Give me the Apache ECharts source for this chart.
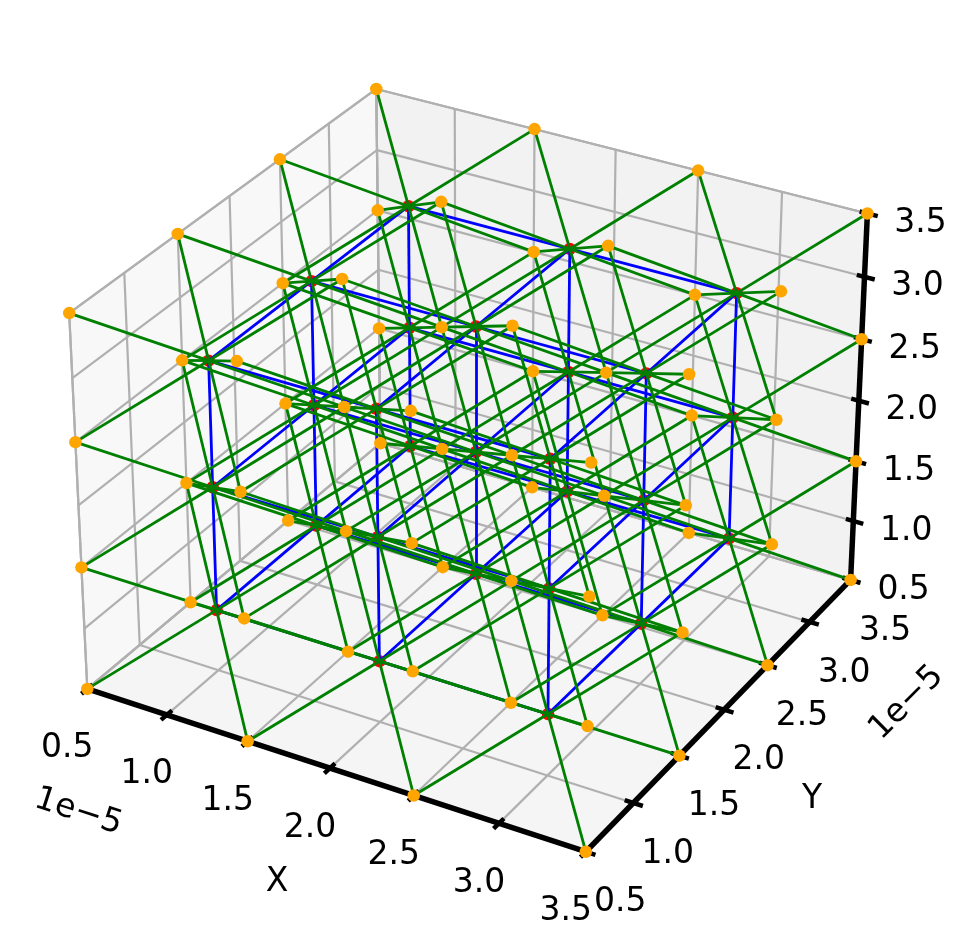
<!DOCTYPE html>
<html>
<head>
<meta charset="utf-8">
<style>html,body{margin:0;padding:0;background:#fff}#c{width:967px;height:951px}</style>
<script src="https://cdn.jsdelivr.net/npm/echarts@6/dist/echarts.min.js"></script>
</head>
<body>
<div id="c"></div>
<script>
// ---- data (all coordinates in units of 1e-5) ----
const axisMin = 0.5, axisMax = 3.5;
const tickValues = [0.5, 1.0, 1.5, 2.0, 2.5, 3.0, 3.5];
const tickLabels = ['0.5', '1.0', '1.5', '2.0', '2.5', '3.0', '3.5'];
const outerCoords = [0.5, 1.5, 2.5, 3.5];   // orange lattice
const innerCoords = [1.0, 2.0, 3.0];        // red lattice
const axisLabels = {x: 'X', y: 'Y'};
const offsetText = '1e\u22125';

// ---- camera (elev 30, azim -60, box 4:4:3, dist 10) ----
const SCALE = 4797, OX = 476, OY = 452, W = 967, H = 951;
const half = [0.59524, 0.59524, 0.44643];
function project(x, y, z) {
  const q = [x, y, z].map((v, i) => half[i] * (2 * (v - axisMin) / (axisMax - axisMin) - 1));
  const xc = 0.866025 * q[0] + 0.5 * q[1];
  const yc = -0.25 * q[0] + 0.433013 * q[1] + 0.866025 * q[2];
  const d = 10 - (0.433013 * q[0] - 0.75 * q[1] + 0.5 * q[2]);
  return [xc / d, yc / d];
}
const seg = (a, b) => ({coords: [project(...a), project(...b)]});
const lo = axisMin, hi = axisMax;

// ---- marks ----
const gridSegs = [], edgeSegs = [], tickSegs = [], blueSegs = [], greenSegs = [];
tickValues.forEach(t => {
  gridSegs.push(seg([t, lo, lo], [t, hi, lo]), seg([t, hi, lo], [t, hi, hi]));
  gridSegs.push(seg([lo, t, lo], [hi, t, lo]), seg([lo, t, lo], [lo, t, hi]));
  gridSegs.push(seg([lo, lo, t], [lo, hi, t]), seg([lo, hi, t], [hi, hi, t]));
  tickSegs.push(seg([t, lo - 0.055, lo], [t, lo + 0.05, lo]));
  tickSegs.push(seg([hi + 0.055, t, lo], [hi - 0.05, t, lo]));
  tickSegs.push(seg([hi + 0.06, hi, t], [hi - 0.045, hi, t]));
});
edgeSegs.push(seg([lo, lo, lo], [lo, lo, hi]), seg([lo, lo, hi], [lo, hi, hi]),
  seg([lo, hi, hi], [hi, hi, hi]), seg([lo, hi, lo], [lo, hi, hi]),
  seg([lo, lo, lo], [lo, hi, lo]), seg([lo, hi, lo], [hi, hi, lo]));
const axisSegs = [seg([lo, lo, lo], [hi, lo, lo]), seg([hi, lo, lo], [hi, hi, lo]), seg([hi, hi, lo], [hi, hi, hi])];

const orangePts = [], redPts = [];
outerCoords.forEach(x => outerCoords.forEach(y => outerCoords.forEach(z => orangePts.push(project(x, y, z)))));
innerCoords.forEach(x => innerCoords.forEach(y => innerCoords.forEach(z => {
  redPts.push(project(x, y, z));
  const n = innerCoords.length - 1;
  if (x < innerCoords[n]) blueSegs.push(seg([x, y, z], [x + 1, y, z]));
  if (y < innerCoords[n]) blueSegs.push(seg([x, y, z], [x, y + 1, z]));
  if (z < innerCoords[n]) blueSegs.push(seg([x, y, z], [x, y, z + 1]));
  [-0.5, 0.5].forEach(dx => [-0.5, 0.5].forEach(dy => [-0.5, 0.5].forEach(dz =>
    greenSegs.push(seg([x, y, z], [x + dx, y + dy, z + dz])))));
})));

// ---- text ----
const texts = [];
tickValues.forEach((t, i) => {
  texts.push({p: project(t, lo, lo), dx: -20, dy: 60, text: tickLabels[i]});
  texts.push({p: project(hi, t, lo), dx: 34.5, dy: 51, text: tickLabels[i]});
  texts.push({p: project(hi, hi, t), dx: 53, dy: 10, text: tickLabels[i]});
});
texts.push({p: project(lo, lo, lo), dx: -9, dy: 123, text: offsetText, rot: -18});
texts.push({p: project(hi, hi, lo), dx: 56, dy: 123, text: offsetText, rot: 45});
texts.push({p: project(2.0, lo, lo), dx: -53, dy: 114, text: axisLabels.x});
texts.push({p: project(hi, 2.0, lo), dx: 88, dy: 90, text: axisLabels.y});

const panes = [
  {pts: [[lo, lo, lo], [lo, hi, lo], [lo, hi, hi], [lo, lo, hi]], color: 'rgba(242,242,242,0.5)'},
  {pts: [[lo, hi, lo], [hi, hi, lo], [hi, hi, hi], [lo, hi, hi]], color: 'rgba(230,230,230,0.5)'},
  {pts: [[lo, lo, lo], [hi, lo, lo], [hi, hi, lo], [lo, hi, lo]], color: 'rgba(236,236,236,0.5)'}
];

const lineSeries = (name, data, color, width, z) => ({
  name, type: 'lines', coordinateSystem: 'cartesian2d', z, silent: true, polyline: false, animation: false,
  data, lineStyle: {color, width, opacity: 1, curveness: 0}
});
const dotSeries = (name, data, color, size, z) => ({
  name, type: 'scatter', z, silent: true, animation: false, data, symbolSize: size,
  itemStyle: {color, opacity: 1}
});

const option = {
  animation: false,
  backgroundColor: '#fff',
  grid: {left: 0, right: 0, top: 0, bottom: 0},
  xAxis: {type: 'value', show: false, min: -OX / SCALE, max: (W - OX) / SCALE},
  yAxis: {type: 'value', show: false, min: (OY - H) / SCALE, max: OY / SCALE},
  series: [
    {
      type: 'custom', z: 1, silent: true, animation: false,
      data: panes.map((_, i) => [i]),
      clip: false,
      renderItem(params, api) {
        const pane = panes[params.dataIndex];
        return {type: 'polygon',
          shape: {points: pane.pts.map(p => api.coord(project(...p)))},
          style: {fill: pane.color, stroke: null}};
      }
    },
    lineSeries('grid', gridSegs, '#b0b0b0', 2.2, 2),
    lineSeries('edges', edgeSegs, '#b0b0b0', 2.2, 2),
    lineSeries('axes', axisSegs, '#000', 5.5, 3),
    lineSeries('ticks', tickSegs, '#000', 4.5, 3),
    dotSeries('inner', redPts, '#ff0000', 12.5, 4),
    lineSeries('links', blueSegs, '#0000ff', 2.8, 5),
    lineSeries('springs', greenSegs, '#008000', 2.8, 6),
    dotSeries('outer', orangePts, '#ffa500', 12.5, 7),
    {
      type: 'custom', z: 8, silent: true, animation: false, clip: false,
      data: texts.map((_, i) => [i]),
      renderItem(params, api) {
        const t = texts[params.dataIndex], c = api.coord(t.p);
        return {type: 'text', x: c[0] + t.dx, y: c[1] + t.dy,
          rotation: (t.rot || 0) * Math.PI / 180,
          style: {text: t.text, x: 0, y: 0, align: 'center', verticalAlign: 'middle',
            fill: '#000', font: '33px "DejaVu Sans"'}};
      }
    }
  ]
};
echarts.init(document.getElementById('c'), null, {renderer: 'canvas'}).setOption(option);
</script>
</body>
</html>
